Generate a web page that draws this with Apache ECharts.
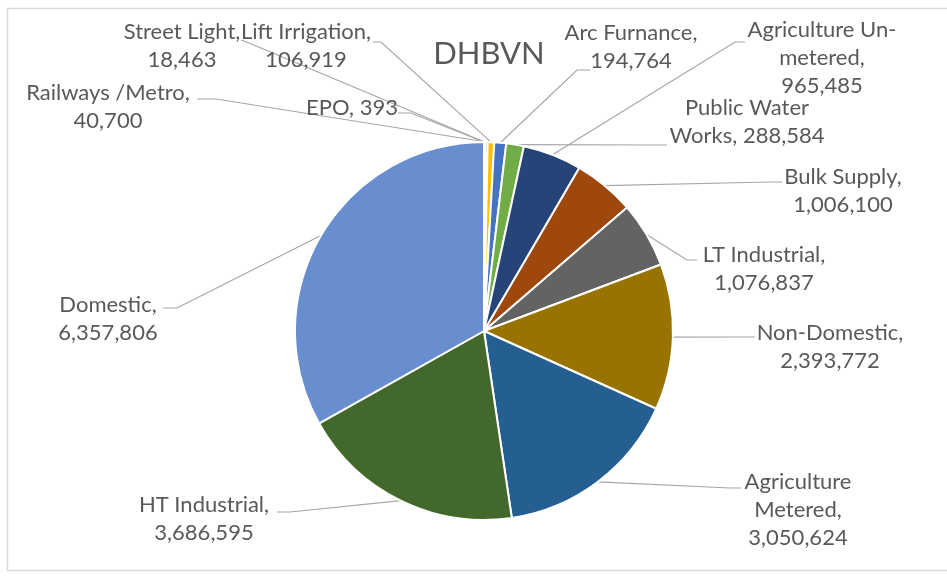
<!DOCTYPE html>
<html>
<head>
<meta charset="utf-8">
<script src="https://cdn.jsdelivr.net/npm/echarts@6/dist/echarts.min.js"></script>
<style>
  html, body { margin: 0; padding: 0; background: #ffffff; }
  #chart { width: 947px; height: 579px; }
</style>
</head>
<body>
<div id="chart"></div>
<script>
// ---- Data ----
const chartTitle = 'DHBVN';
const categories = ['EPO', 'Street Light', 'Railways /Metro', 'Lift Irrigation', 'Arc Furnance',
  'Public Water Works', 'Agriculture Un-metered', 'Bulk Supply', 'LT Industrial',
  'Non-Domestic', 'Agriculture Metered', 'HT Industrial', 'Domestic'];
const values = [393, 18463, 40700, 106919, 194764, 288584, 965485, 1006100, 1076837,
  2393772, 3050624, 3686595, 6357806];
const sliceColors = ['#5B9BD5', '#ED7D31', '#A5A5A5', '#FFC000', '#4472C4', '#70AD47',
  '#264478', '#9E480E', '#636363', '#997300', '#255E91', '#43682B', '#698ED0'];

// label text wrapping (how each label breaks into lines)
const labelPrefix = {
  'EPO': 'EPO, ',
  'Agriculture Un-metered': 'Agriculture Un-\nmetered,\n',
  'Public Water Works': 'Public Water\nWorks, ',
  'Agriculture Metered': 'Agriculture\nMetered,\n'
};

// label placement: text centre x, first line centre y, leader end (a) and bend (b)
const labelPlace = {
  'EPO':                    { x: 352, y: 108, ax: 398, ay: 113, bx: 411, by: 113 },
  'Street Light':           { x: 182, y: 32,  ax: 241, ay: 40,  bx: 249, by: 43 },
  'Railways /Metro':        { x: 108, y: 93,  ax: 197, ay: 99,  bx: 216, by: 99 },
  'Lift Irrigation':        { x: 306, y: 32,  ax: 373, ay: 42,  bx: 381, by: 42 },
  'Arc Furnance':           { x: 631, y: 33,  ax: 590, ay: 70,  bx: 577, by: 70 },
  'Public Water Works':     { x: 747, y: 108, ax: 667, ay: 145, bx: 655, by: 145 },
  'Agriculture Un-metered': { x: 822, y: 30,  ax: 745, ay: 42,  bx: 735, by: 42 },
  'Bulk Supply':            { x: 843, y: 177, ax: 782, ay: 182, bx: 770, by: 182 },
  'LT Industrial':          { x: 764, y: 255, ax: 697, ay: 260, bx: 687, by: 260 },
  'Non-Domestic':           { x: 830, y: 333, ax: 755, ay: 337, bx: 745, by: 337 },
  'Agriculture Metered':    { x: 798, y: 482, ax: 741, ay: 488, bx: 730, by: 488 },
  'HT Industrial':          { x: 204, y: 505, ax: 277, ay: 512, bx: 290, by: 512 },
  'Domestic':               { x: 108, y: 305, ax: 163, ay: 308, bx: 177, by: 308 }
};

const LINE_H = 28;
const fmt = v => v.toLocaleString('en-US');

const chart = echarts.init(document.getElementById('chart'), null, { renderer: 'canvas' });

chart.setOption({
  backgroundColor: '#ffffff',
  animation: false,
  title: {
    text: chartTitle,
    left: 484,
    top: 33,
    textAlign: 'center',
    textStyle: { fontFamily: 'Lato', fontSize: 31, fontWeight: 'normal', color: '#595959' }
  },
  graphic: [{
    type: 'rect',
    silent: true,
    z: -10,
    shape: { x: 7.5, y: 8.5, width: 960, height: 562 },
    style: { fill: null, stroke: '#D9D9D9', lineWidth: 1.5 }
  }],
  series: [{
    type: 'pie',
    center: [484, 331],
    radius: 189,
    startAngle: 90,
    clockwise: true,
    avoidLabelOverlap: false,
    emphasis: { disabled: true },
    itemStyle: { borderColor: '#ffffff', borderWidth: 2 },
    label: {
      show: true,
      position: 'outside',
      fontFamily: 'Lato',
      fontSize: 22,
      lineHeight: LINE_H,
      color: '#595959',
      formatter: p => (labelPrefix[p.name] !== undefined ? labelPrefix[p.name] : p.name + ',\n') + fmt(p.value)
    },
    labelLine: {
      show: true,
      length: 10,
      length2: 10,
      lineStyle: { color: '#A6A6A6', width: 1.2 }
    },
    labelLayout: function (params) {
      const s = labelPlace[categories[params.dataIndex]];
      const pts = params.labelLinePoints;
      const res = {
        x: s.x,
        y: s.y - LINE_H / 2,
        align: 'center',
        verticalAlign: 'top'
      };
      if (pts && pts[0]) {
        res.labelLinePoints = [pts[0], [s.bx, s.by], [s.ax, s.ay]];
      }
      return res;
    },
    data: categories.map((name, i) => ({
      name: name,
      value: values[i],
      itemStyle: { color: sliceColors[i] }
    }))
  }]
});
</script>
</body>
</html>
